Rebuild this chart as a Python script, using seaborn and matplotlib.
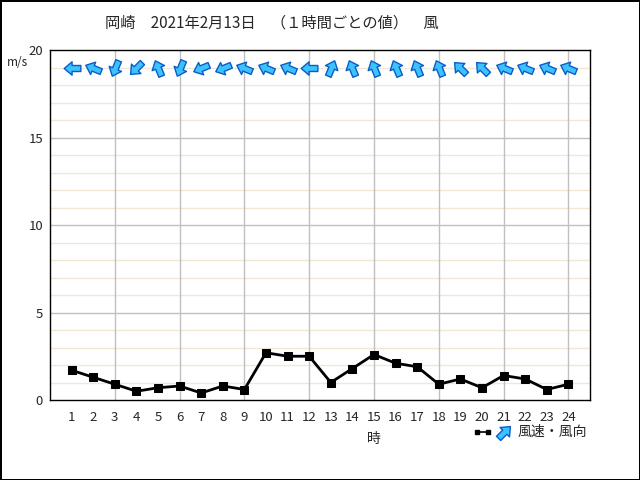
import numpy as np
import pandas as pd
import matplotlib
matplotlib.use('Agg')
import matplotlib.pyplot as plt
import seaborn as sns
from matplotlib.path import Path
from matplotlib.markers import MarkerStyle
from matplotlib.transforms import Affine2D

# hourly values, 岡崎 2021-02-13
hours = list(range(1, 25))
speed = [1.7, 1.3, 0.9, 0.5, 0.7, 0.8, 0.4, 0.8, 0.6, 2.7, 2.5, 2.5,
         1.0, 1.8, 2.6, 2.1, 1.9, 0.9, 1.2, 0.7, 1.4, 1.2, 0.6, 0.9]
direction = ['E', 'ESE', 'NNE', 'NE', 'SSE', 'NNE', 'ENE', 'ENE', 'ESE', 'ESE', 'ESE', 'E',
             'SSW', 'SSE', 'SSE', 'SSE', 'SSE', 'SSE', 'SE', 'SE', 'ESE', 'ESE', 'ESE', 'ESE']
compass = ['N', 'NNE', 'NE', 'ENE', 'E', 'ESE', 'SE', 'SSE',
           'S', 'SSW', 'SW', 'WSW', 'W', 'WNW', 'NW', 'NNW']

df = pd.DataFrame({'hour': hours, 'speed': speed, 'dir': direction})

sns.set_style('white')
plt.rcParams['font.family'] = ['Noto Sans CJK JP', 'DejaVu Sans']

fig = plt.figure(figsize=(6.4, 4.8), dpi=100, edgecolor='black', linewidth=2)
ax = fig.add_axes([50 / 640, 80 / 480, 540 / 640, 350 / 480])

# grid: beige every 1 m/s, grey every 5 m/s and every 3 hours
for v in range(1, 20):
    ax.axhline(v, color='#c0c0c0' if v % 5 == 0 else '#f0e8d2', lw=1, zorder=0)
for h in range(3, 25, 3):
    ax.axvline(h, color='#c0c0c0', lw=1, zorder=0)

sns.lineplot(data=df, x='hour', y='speed', ax=ax, color='black', lw=2,
             marker='s', markersize=6, markeredgecolor='black', zorder=3)

# wind direction arrows (pointing where the wind goes)
arrow = Path([(1.0, 0.0), (0.05, 0.8), (0.05, 0.36), (-1.0, 0.36),
              (-1.0, -0.36), (0.05, -0.36), (0.05, -0.8), (1.0, 0.0)],
             [Path.MOVETO] + [Path.LINETO] * 6 + [Path.CLOSEPOLY])


def arrow_marker(from_dir):
    bearing = compass.index(from_dir) * 22.5 + 180
    return MarkerStyle(arrow, transform=Affine2D().rotate_deg(90 - bearing))


arrow_style = dict(ms=12, mfc='#3cc3ff', mec='#0a5cc8', mew=1, ls='none')
for h, d in zip(hours, direction):
    ax.plot(h, 19, marker=arrow_marker(d), zorder=4, **arrow_style)

ax.set_xlim(0, 25)
ax.set_ylim(0, 20)
ax.set_xticks(hours)
ax.set_yticks([0, 5, 10, 15, 20])
ax.tick_params(length=0, labelsize=9.5)
ax.tick_params(axis='x', pad=8)
ax.tick_params(axis='y', pad=5)
for s in ax.spines.values():
    s.set_color('black')
    s.set_linewidth(1)

ax.set_ylabel('')
ax.set_xlabel('時', fontsize=10)
ax.xaxis.set_label_coords(15 / 25, -0.09)

fig.text(18 / 640, 1 - 62 / 480, 'm/s', fontsize=8.5, ha='center', va='center')
fig.text(272 / 640, 1 - 23 / 480, '岡崎　2021年2月13日　（１時間ごとの値）　風',
         fontsize=11, ha='center', va='center')

# legend (drawn below the axes, right side)
ly = -0.09
ax.plot([0.79, 0.812], [ly, ly], transform=ax.transAxes, clip_on=False,
        color='black', lw=1.2, marker='s', ms=3)
ax.plot([0.84], [ly], transform=ax.transAxes, clip_on=False,
        marker=arrow_marker('SW'), **arrow_style)
ax.text(0.866, ly, '風速・風向', transform=ax.transAxes, fontsize=10,
        ha='left', va='center')

fig.savefig('out.png', dpi=100)
